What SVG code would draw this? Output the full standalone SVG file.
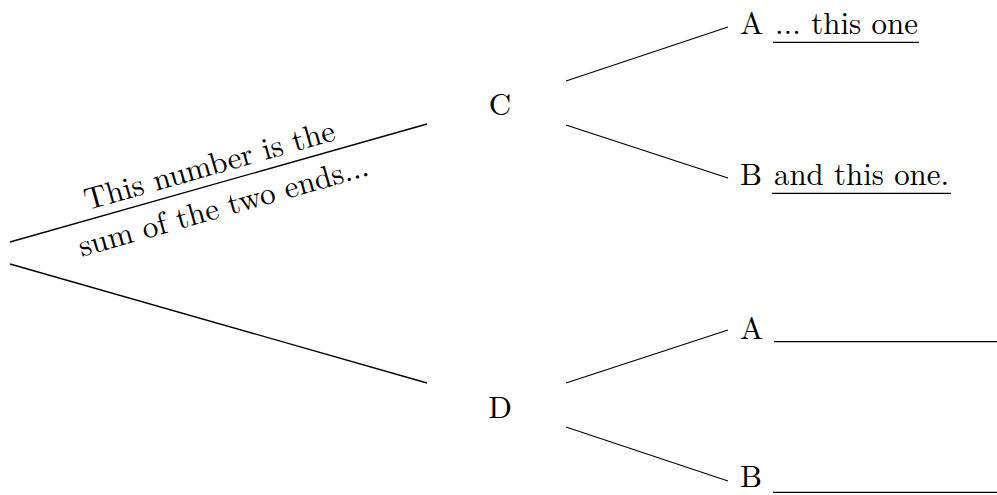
<svg xmlns="http://www.w3.org/2000/svg" width="997" height="495" viewBox="0 0 997 495">
<style>
text{font-family:"Latin Modern Roman","Liberation Serif","DejaVu Serif",serif;font-size:31px;fill:#000}
.e{stroke:#000;stroke-width:1.3;fill:none}
.u{stroke:#000;stroke-width:1.3}
</style>
<rect width="997" height="495" fill="#fff"/>
<g id="connectors">
<line class="e" x1="10" y1="242" x2="427" y2="124"/>
<line class="e" x1="10" y1="264" x2="427" y2="383"/>
<line class="e" x1="566" y1="81" x2="728" y2="27"/>
<line class="e" x1="566" y1="125" x2="728" y2="178"/>
<line class="e" x1="566" y1="383" x2="728" y2="330"/>
<line class="e" x1="566" y1="427" x2="728" y2="481"/>
</g>
<g id="edge-label" transform="translate(218,183.1) rotate(-15.8)">
<text x="-3.5" y="-9.4" text-anchor="middle" textLength="259" lengthAdjust="spacingAndGlyphs">This number is the</text>
<text x="-1.2" y="33.8" text-anchor="middle" textLength="300" lengthAdjust="spacingAndGlyphs">sum of the two ends...</text>
</g>
<g id="node-C"><text x="500" y="115" text-anchor="middle">C</text></g>
<g id="node-D"><text x="500" y="418" text-anchor="middle">D</text></g>
<g id="node-A1">
<text x="740" y="34">A</text>
<text x="775" y="34" textLength="143" lengthAdjust="spacingAndGlyphs">... this one</text>
<line class="u" x1="773" y1="42.3" x2="919" y2="42.3"/>
</g>
<g id="node-B1">
<text x="740" y="185">B</text>
<text x="774" y="185" textLength="175" lengthAdjust="spacingAndGlyphs">and this one.</text>
<line class="u" x1="772" y1="193.3" x2="951" y2="193.3"/>
</g>
<g id="node-A2">
<text x="740" y="338.5">A</text>
<line class="u" x1="774" y1="341.7" x2="997" y2="341.7"/>
</g>
<g id="node-B2">
<text x="740" y="487">B</text>
<line class="u" x1="773" y1="492.3" x2="997" y2="492.3"/>
</g>
</svg>
